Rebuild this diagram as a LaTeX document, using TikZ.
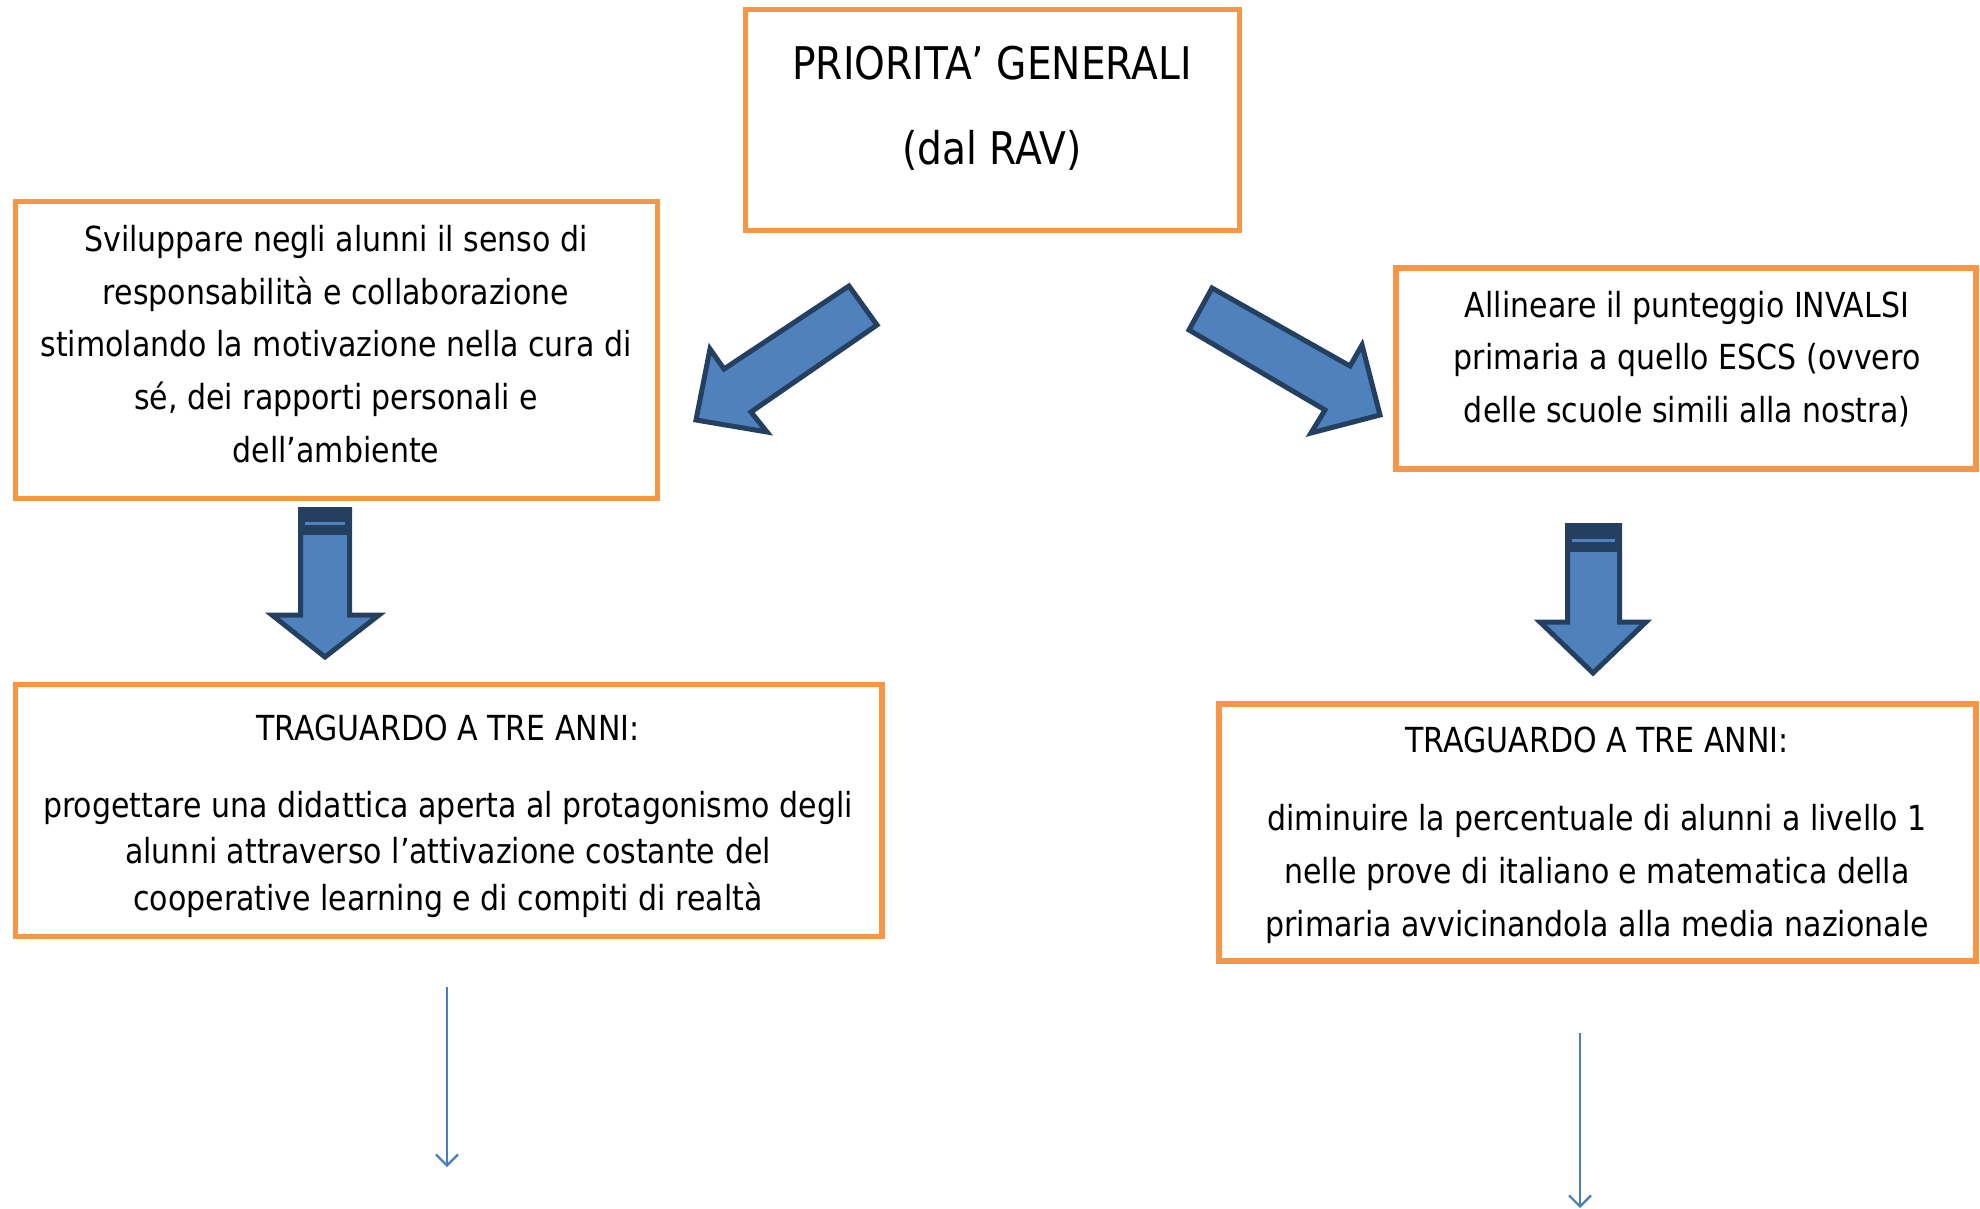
\documentclass[tikz,border=0pt]{standalone}
\usepackage{fontspec}
\setmainfont{DejaVu Sans}[FakeStretch=0.87]
\usetikzlibrary{arrows.meta}
\definecolor{boxorange}{HTML}{F79646}
\definecolor{afill}{HTML}{4F81BD}
\definecolor{astroke}{HTML}{243F60}
\definecolor{thinblue}{HTML}{4A7EBB}
\tikzset{
  box/.style={draw=boxorange, line width=5.3pt, fill=white, inner sep=0pt, rectangle},
  txt/.style={align=center, inner sep=0pt, font=\fontsize{34.5}{52.8}\selectfont},
  bigtxt/.style={align=center, inner sep=0pt, font=\fontsize{45}{85}\selectfont},
  blockarrow/.style={fill=afill, draw=astroke, line width=5pt, line join=miter},
  thinarrow/.style={draw=thinblue, line width=2.2pt, -{Straight Barb[length=11pt,width=22pt,line width=2.2pt]}}
}
\begin{document}
\begin{tikzpicture}[x=1pt,y=-1pt]
\useasboundingbox (0,0) rectangle (1980,1209);
\fill[white] (0,0) rectangle (1980,1209);

% boxes
\node[box, minimum width=494, minimum height=221] (top) at (992.5,120) {};
\node[box, minimum width=641.6, minimum height=296.6] (lb1) at (336.5,350) {};
\node[box, minimum width=580, minimum height=201] (rb1) at (1686,368.5) {};
\node[box, minimum width=866.3, minimum height=251.8] (lb2) at (448.9,810.6) {};
\node[box, minimum width=757, minimum height=257] (rb2) at (1597.5,832.5) {};

% texts
\node[bigtxt] (toptxt) at (992,108) {PRIORITA’ GENERALI\\(dal RAV)};
\node[txt] (lb1txt) at (336,344) {Sviluppare negli alunni il senso di\\responsabilità e collaborazione\\stimolando la motivazione nella cura di\\sé, dei rapporti personali e\\dell’ambiente};
\node[txt] (rb1txt) at (1687,359) {Allineare il punteggio INVALSI\\primaria a quello ESCS (ovvero\\delle scuole simili alla nostra)};
\node[txt, font=\fontsize{34.5}{46.5}\selectfont] (lb2txt) at (448,816) {TRAGUARDO A TRE ANNI:\\[30.5pt]progettare una didattica aperta al protagonismo degli\\alunni attraverso l’attivazione costante del\\cooperative learning e di compiti di realtà};
\node[txt, font=\fontsize{34.5}{53}\selectfont] (rb2txt) at (1597,835) {TRAGUARDO A TRE ANNI:\\[25pt]diminuire la percentuale di alunni a livello 1\\nelle prove di italiano e matematica della\\primaria avvicinandola alla media nazionale};

% diagonal block arrows
\draw[blockarrow] (849,286) -- (877,325) -- (751,412) -- (767,432) -- (696,420) -- (710,349) -- (724,369) -- cycle;
\draw[blockarrow] (1212,288) -- (1350,366) -- (1362,345) -- (1380,415) -- (1311,433) -- (1325,410) -- (1189,330) -- cycle;

% down block arrows
\draw[blockarrow] (300.5,509.5) -- (349.5,509.5) -- (349.5,615) -- (379,615) -- (325,657) -- (272,615) -- (300.5,615) -- cycle;
\fill[astroke] (300.5,509.5) rectangle (349.5,535);
\draw[afill, line width=3pt] (305,523) -- (345,523);

\draw[blockarrow] (1567.5,525.5) -- (1619.5,525.5) -- (1619.5,622) -- (1646,622) -- (1593,673) -- (1540,622) -- (1567.5,622) -- cycle;
\fill[astroke] (1567.5,525.5) rectangle (1619.5,552);
\draw[afill, line width=3pt] (1572,540) -- (1615,540);

% thin arrows
\coordinate (la0) at (447,987);
\coordinate (la1) at (447,1167);
\coordinate (ra0) at (1580,1033);
\coordinate (ra1) at (1580,1208);
\draw[thinarrow] (la0) -- (la1);
\draw[thinarrow] (ra0) -- (ra1);
\end{tikzpicture}
\end{document}
